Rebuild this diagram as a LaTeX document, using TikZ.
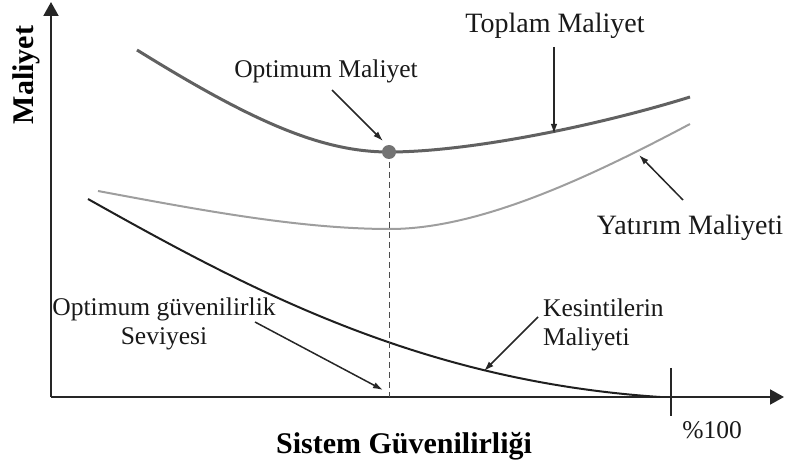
\documentclass[tikz,border=0pt]{standalone}
\usepackage{fontspec}
\setmainfont{Liberation Serif}
\usetikzlibrary{arrows.meta}
\begin{document}
\begin{tikzpicture}[x=1pt,y=-1pt,
  lbl/.style={inner sep=0pt,font=\fontsize{25.5}{29}\selectfont,text=black!90},
  biglbl/.style={inner sep=0pt,font=\fontsize{28}{32}\selectfont,text=black!90},
  axlbl/.style={inner sep=0pt,font=\fontsize{30}{34}\selectfont\bfseries,text=black},
  axis/.style={line width=2pt,draw=black!85,-{Triangle[length=14pt,width=15pt]}},
  ptr/.style={line width=1.5pt,draw=black!85,-{Latex[length=10pt,width=6.5pt]}},
  total/.style={line width=3pt,draw=black!62},
  invest/.style={line width=2pt,draw=black!38},
  outage/.style={line width=2pt,draw=black!88}]
\useasboundingbox (0,0) rectangle (788,465);
% axes
\coordinate (O) at (51,397);
\coordinate (ytip) at (51,2);
\coordinate (xtip) at (784,397);
\draw[axis] (O) -- (ytip);
\draw[axis] (O) -- (xtip);
\coordinate (tickT) at (671,368);
\coordinate (tickB) at (671,416);
\draw[line width=2pt,black!85] (tickT) -- (tickB);
% curves
\coordinate (opt) at (389,152);
\coordinate (optB) at (389,397);
\draw[total] (137,50) .. controls (250,120) and (320,152) .. (opt) .. controls (470,152) and (600,125) .. (690,97);
\draw[invest] (98,191) .. controls (200,210) and (300,229) .. (390,229) .. controls (480,229) and (590,177) .. (690,124);
\draw[outage] (88,199) .. controls (250,290) and (420,381) .. (660,397);
\draw[dashed,line width=1pt,black!70,dash pattern=on 6pt off 4pt] (opt) -- (optB);
\node[circle,fill=black!55,inner sep=0pt,minimum size=14pt] (dot) at (opt) {};
% labels
\node[lbl,anchor=base] (optmal) at (326,78) {Optimum Maliyet};
\node[biglbl,anchor=base] (toplam) at (555,33) {Toplam Maliyet};
\node[biglbl,anchor=base] (yatirim) at (690,235) {Yatırım Maliyeti};
\node[lbl,align=center] (optguv) at (164,324) {Optimum güvenilirlik\\Seviyesi};
\node[lbl,align=left,anchor=west] (kesinti) at (543,325) {Kesintilerin\\Maliyeti};
\node[lbl,anchor=base] (yuzde) at (712,438) {\%100};
\node[axlbl,anchor=base] (xlab) at (404,453) {Sistem Güvenilirliği};
\node[axlbl,rotate=90,anchor=base] (ylab) at (33,75) {Maliyet};
% pointers
\coordinate (a1s) at (332,90);  \coordinate (a1e) at (383,141);
\coordinate (a2s) at (554,47);  \coordinate (a2e) at (554,134);
\coordinate (a3s) at (683,200); \coordinate (a3e) at (639,155);
\coordinate (a4s) at (255,322); \coordinate (a4e) at (383,390);
\coordinate (a5s) at (538,317); \coordinate (a5e) at (484,371);
\draw[ptr] (a1s) -- (a1e);
\draw[ptr] (a2s) -- (a2e);
\draw[ptr] (a3s) -- (a3e);
\draw[ptr] (a4s) -- (a4e);
\draw[ptr] (a5s) -- (a5e);
\end{tikzpicture}
\end{document}
